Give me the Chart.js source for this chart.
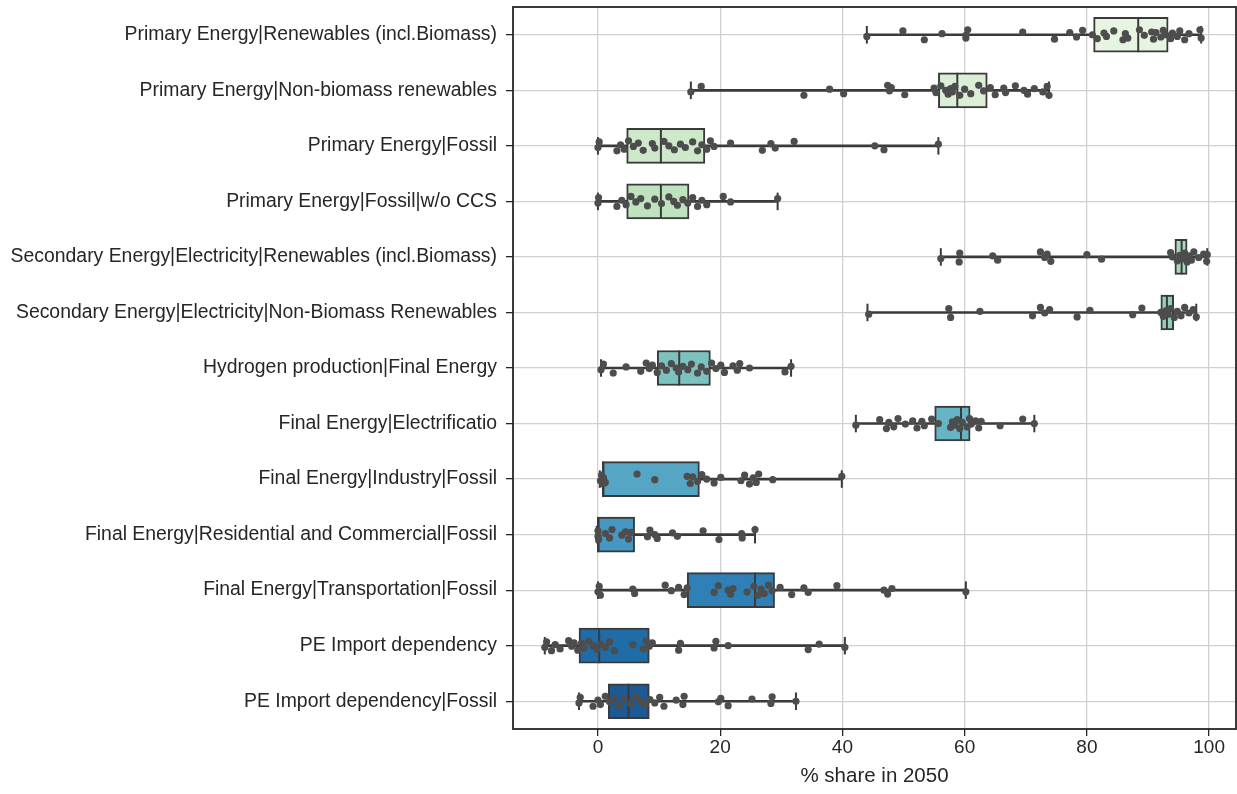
<!DOCTYPE html>
<html>
<head>
<meta charset="utf-8">
<title>% share in 2050</title>
<script src="https://cdn.jsdelivr.net/npm/chart.js@4/dist/chart.umd.min.js"></script>
<style>
  html, body { margin: 0; padding: 0; background: #fff; }
  #wrap { width: 1237px; height: 794px; }
</style>
</head>
<body>
<div id="wrap"><canvas id="chart" width="1237" height="794"></canvas></div>
<script>
// indicator names, top to bottom
const categories = [
    'Primary Energy|Renewables (incl.Biomass)',
    'Primary Energy|Non-biomass renewables',
    'Primary Energy|Fossil',
    'Primary Energy|Fossil|w/o CCS',
    'Secondary Energy|Electricity|Renewables (incl.Biomass)',
    'Secondary Energy|Electricity|Non-Biomass Renewables',
    'Hydrogen production|Final Energy',
    'Final Energy|Electrificatio',
    'Final Energy|Industry|Fossil',
    'Final Energy|Residential and Commercial|Fossil',
    'Final Energy|Transportation|Fossil',
    'PE Import dependency',
    'PE Import dependency|Fossil'
];

// box statistics (% share in 2050)
const whiskerLow  = [44.0, 15.2, 0.0, 0.0, 56.1, 44.1, 0.5, 42.2, 0.3, -0.2, 0.0, -8.7, -3.1];
const q1          = [81.1, 55.7, 4.7, 4.7, 94.4, 92.1, 9.7, 55.1, 0.7, -0.1, 14.6, -3.1, 1.7];
const median      = [88.4, 58.8, 10.3, 10.3, 95.5, 93.1, 13.3, 59.4, 0.9, 0.1, 25.7, 0.2, 5.0];
const q3          = [93.3, 63.7, 17.5, 14.9, 96.4, 94.2, 18.4, 60.9, 16.6, 6.0, 28.9, 8.4, 8.4];
const whiskerHigh = [98.7, 73.8, 55.7, 29.4, 99.7, 97.9, 31.6, 71.4, 39.9, 25.7, 60.2, 40.4, 32.4];

// individual scenario values per indicator
const scenarioShares = [
    [44.0, 49.9, 53.4, 56.3, 60.2, 60.5, 60.2, 69.5, 74.7, 77.2, 78.3, 79.3, 80.9, 81.7, 82.8, 83.2, 84.4, 85.9,
     86.3, 86.7, 88.6, 89.4, 90.6, 90.9, 91.3, 92.1, 92.5, 92.9, 93.7, 94.0, 94.8, 95.2, 96.0, 96.7, 98.7, 98.5],
    [15.2, 16.9, 33.7, 37.9, 40.2, 47.4, 47.7, 48.0, 50.2, 55.0, 55.3, 56.1, 56.9, 57.3, 57.7, 58.0, 58.4, 59.2,
     60.0, 61.0, 62.3, 63.1, 64.2, 65.0, 66.4, 66.7, 68.3, 69.7, 70.3, 71.4, 72.8, 73.5, 73.8],
    [0.0, 0.2, 3.1, 3.7, 4.3, 5.0, 5.8, 6.6, 7.4, 8.9, 9.3, 10.8, 11.6, 12.5, 13.5, 14.3, 15.5, 16.3, 17.0, 17.8,
     18.4, 19.0, 21.7, 26.9, 28.3, 29.0, 32.1, 45.3, 46.8, 55.7],
    [0.0, 0.1, 3.1, 3.9, 4.6, 5.4, 6.2, 7.0, 8.1, 9.3, 10.4, 11.6, 12.4, 13.0, 13.9, 14.7, 15.5, 16.3, 17.0, 17.8,
     20.5, 21.7, 29.4],
    [56.1, 59.2, 59.1, 64.6, 65.4, 72.4, 73.1, 73.5, 74.1, 80.0, 82.4, 93.7, 94.0, 94.8, 95.2, 95.6, 96.0, 96.4,
     96.7, 97.1, 97.5, 98.3, 99.1, 99.6, 99.7],
    [44.3, 57.4, 57.7, 62.5, 71.1, 72.4, 73.1, 73.9, 78.4, 80.5, 87.5, 89.0, 92.1, 92.5, 92.9, 93.3, 93.7, 94.3,
     94.8, 95.4, 96.0, 96.7, 97.4, 97.9],
    [0.5, 0.9, 2.5, 4.6, 7.0, 7.9, 8.4, 8.9, 9.7, 10.4, 11.2, 12.0, 12.8, 13.2, 13.9, 14.7, 15.3, 16.3, 16.9, 17.8,
     18.6, 19.3, 20.1, 20.7, 22.1, 22.8, 23.2, 24.8, 30.6, 31.6],
    [42.2, 46.1, 47.2, 47.6, 48.4, 49.1, 50.3, 51.5, 52.2, 53.0, 53.4, 54.6, 55.7, 57.7, 58.0, 58.4, 58.8, 59.2,
     59.6, 60.4, 60.8, 61.1, 61.8, 62.3, 62.7, 65.8, 69.5, 71.4],
    [0.4, 0.6, 0.8, 0.9, 1.2, 6.4, 9.3, 14.6, 15.1, 15.5, 16.3, 17.0, 17.8, 19.0, 20.1, 23.4, 24.0, 24.8, 25.4,
     25.9, 26.3, 28.6, 39.9],
    [0.0, 0.0, 0.1, 1.2, 1.9, 2.3, 3.9, 4.5, 5.0, 5.4, 8.1, 8.5, 9.3, 9.7, 12.2, 13.0, 17.2, 19.8, 23.5, 23.6, 25.7],
    [0.0, 0.2, 0.4, 5.7, 6.0, 11.0, 12.0, 13.2, 14.1, 14.6, 19.0, 19.7, 21.3, 21.7, 22.1, 24.4, 25.5, 26.2, 26.7,
     27.2, 27.9, 28.5, 29.8, 31.7, 33.7, 34.4, 39.1, 46.8, 47.4, 48.1, 60.2],
    [-8.7, -8.4, -7.6, -7.0, -6.2, -4.8, -4.3, -3.9, -3.3, -2.7, -2.3, -1.5, -0.8, -0.2, 0.4, 1.2, 1.9, 2.7, 5.7,
     7.4, 7.9, 8.4, 8.9, 13.2, 13.5, 19.0, 19.3, 21.3, 34.4, 36.2, 40.4],
    [-3.1, -2.9, -0.8, 0.0, 0.4, 1.2, 1.9, 2.7, 3.5, 4.3, 5.4, 6.2, 7.0, 7.7, 8.5, 9.3, 10.1, 10.8, 12.8, 13.9,
     14.1, 19.7, 20.1, 21.3, 25.2, 28.3, 28.5, 32.4]
];

const xTickValues = [0, 20, 40, 60, 80, 100];

// GnBu-like ramp, one fill per box
const boxColors = [
    '#e6f4e1', '#dbefd6', '#cde9c9', '#c0e3bf', '#a8d9b8', '#92cfbd', '#7cc3bf',
    '#66b4c4', '#55a5c5', '#4697c2', '#2f80b6', '#206ca6', '#1b5a95'
];
const lineColor = '#3a3a3a';
const dotColor = '#4d4d4d';
// small vertical spread so overlapping dots stay visible
const jitter = [0.03, -0.07, 0.09, -0.02, 0.06, -0.09, 0.01, -0.05, 0.08, -0.04, 0.04, -0.08, 0.0, 0.07, -0.03];

const whiskerData = categories.map((c, i) => ({ x: [whiskerLow[i], whiskerHigh[i]], y: i }));
const boxData = categories.map((c, i) => ({ x: [q1[i], q3[i]], y: i }));
const dotData = [];
scenarioShares.forEach((vals, i) => {
    vals.forEach((v, k) => dotData.push({ x: v, y: i + jitter[k % jitter.length] }));
});

// medians, whisker caps and the axes frame
const boxMarks = {
    id: 'boxMarks',
    afterDatasetDraw(chart, args) {
        if (chart.data.datasets[args.index].label !== 'boxes') return;
        const ctx = chart.ctx;
        const x = chart.scales.x;
        ctx.save();
        ctx.strokeStyle = lineColor;
        ctx.lineWidth = 2;
        args.meta.data.forEach((bar, i) => {
            const half = bar.height / 2;
            const m = x.getPixelForValue(median[i]);
            ctx.beginPath();
            ctx.moveTo(m, bar.y - half);
            ctx.lineTo(m, bar.y + half);
            ctx.stroke();
            [whiskerLow[i], whiskerHigh[i]].forEach(v => {
                const px = x.getPixelForValue(v);
                ctx.beginPath();
                ctx.moveTo(px, bar.y - half / 2);
                ctx.lineTo(px, bar.y + half / 2);
                ctx.stroke();
            });
        });
        ctx.restore();
    },
    afterDraw(chart) {
        const { ctx, chartArea: a } = chart;
        ctx.save();
        ctx.strokeStyle = '#262626';
        ctx.lineWidth = 1.8;
        ctx.strokeRect(a.left, a.top, a.right - a.left, a.bottom - a.top);
        ctx.restore();
    }
};

const fontFamily = '"Liberation Sans", Arial, sans-serif';

new Chart(document.getElementById('chart'), {
    type: 'bar',
    data: {
        datasets: [
            {
                type: 'scatter',
                label: 'scenarios',
                data: dotData,
                order: 0,
                pointRadius: 3.6,
                pointBackgroundColor: dotColor,
                pointBorderWidth: 0
            },
            {
                label: 'boxes',
                data: boxData,
                order: 1,
                grouped: false,
                barThickness: 35,
                backgroundColor: boxColors,
                borderColor: lineColor,
                borderWidth: 2,
                borderSkipped: false
            },
            {
                label: 'whiskers',
                data: whiskerData,
                order: 2,
                grouped: false,
                barThickness: 2,
                backgroundColor: lineColor,
                borderWidth: 0
            }
        ]
    },
    options: {
        indexAxis: 'y',
        responsive: false,
        animation: false,
        events: [],
        layout: { autoPadding: false, padding: { top: 7, right: 1, left: 0, bottom: 0 } },
        plugins: {
            legend: { display: false },
            tooltip: { enabled: false }
        },
        scales: {
            x: {
                type: 'linear',
                min: -13.9,
                max: 104.4,
                afterBuildTicks: s => { s.ticks = xTickValues.map(v => ({ value: v })); },
                afterFit: s => { s.height = 65; s.paddingLeft = 0; s.paddingRight = 0; },
                border: { display: false },
                grid: { color: '#d0d0d0', lineWidth: 1.3, tickColor: '#262626', tickLength: 7 },
                ticks: { font: { family: fontFamily, size: 19 }, color: '#262626', padding: 0, maxRotation: 0 },
                title: {
                    display: true,
                    text: '% share in 2050',
                    font: { family: fontFamily, size: 20.5 },
                    color: '#262626',
                    padding: { top: 0, bottom: 5 }
                }
            },
            y: {
                type: 'linear',
                min: -0.5,
                max: 12.5,
                reverse: true,
                offset: false,
                afterBuildTicks: s => { s.ticks = categories.map((c, i) => ({ value: i })); },
                afterFit: s => { s.width = 513; s.paddingTop = 0; s.paddingBottom = 0; },
                border: { display: false },
                grid: { offset: false, color: '#d0d0d0', lineWidth: 1.3, tickColor: '#262626', tickLength: 7 },
                ticks: {
                    font: { family: fontFamily, size: 19.4 },
                    color: '#262626',
                    padding: 9,
                    autoSkip: false,
                    callback: v => categories[v]
                }
            }
        }
    },
    plugins: [boxMarks]
});
</script>
</body>
</html>
